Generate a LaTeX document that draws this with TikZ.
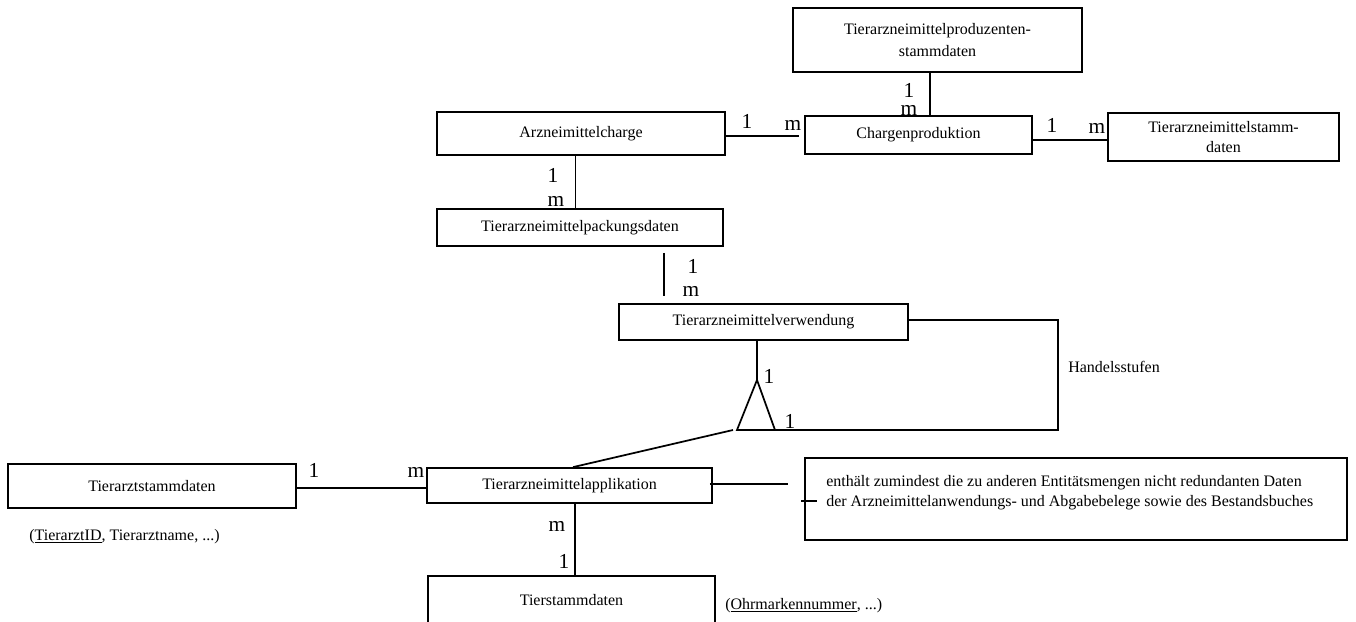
\documentclass[tikz,border=0pt]{standalone}
\usepackage{fontspec}
\setmainfont{Liberation Serif}
\usetikzlibrary{calc}
\begin{document}
\begin{tikzpicture}[x=0.75pt,y=-0.75pt,
  ebox/.style={draw, line width=1.3pt, inner sep=0pt, align=center,
    font=\fontsize{12}{14.5}\selectfont},
  card/.style={font=\fontsize{16}{19}\selectfont, inner sep=0pt, anchor=base},
  note/.style={font=\fontsize{12}{14.5}\selectfont, inner sep=0pt, anchor=base west},
  link/.style={line width=1.3pt}]
\useasboundingbox (0,0) rectangle (1356,621);

% entity boxes
\node[ebox, minimum width=216.75pt, minimum height=48pt] (prod) at (937.5,40)
  {Tierarzneimittelproduzenten-\\[2.5pt]stammdaten};
\node[ebox, minimum width=216pt, minimum height=32.25pt] (charge) at (581,133.5) {Arzneimittelcharge};
\node[ebox, minimum width=170.25pt, minimum height=28.5pt] (chprod) at (918.5,135) {Chargenproduktion};
\node[ebox, minimum width=173.25pt, minimum height=36pt] (stamm) at (1223.5,137)
  {Tierarzneimittelstamm-\\daten};
\node[ebox, minimum width=214.5pt, minimum height=27.75pt] (pack) at (580,227.5) {Tierarzneimittelpackungsdaten};
\node[ebox, minimum width=216.75pt, minimum height=27pt] (verw) at (763.5,322) {Tierarzneimittelverwendung};
\node[ebox, minimum width=213.75pt, minimum height=26.25pt] (appl) at (569.5,485.5) {Tierarzneimittelapplikation};
\node[ebox, minimum width=216pt, minimum height=33pt] (arzt) at (152,486) {Tierarztstammdaten};
\node[ebox, minimum width=215.25pt, minimum height=36pt] (tier) at (571.5,600) {Tierstammdaten};
\node[ebox, minimum width=406.5pt, minimum height=61.5pt] (cbox) at (1076,499) {};
% the base anchor of this two-line node sits on its last line
\node[note, align=left] (ctext) at (826,506)
  {enthält zumindest die zu anderen Entitätsmengen nicht redundanten Daten\\
   der Arzneimittelanwendungs- und Abgabebelege sowie des Bestandsbuches};

% attribute hints
\node[note] (arztattr) at (29,540) {(\underline{TierarztID}, Tierarztname, ...)};
\node[note] (tierattr) at (725,609) {(\underline{Ohrmarkennummer}, ...)};
\node[note] (hstufen) at (1068,372) {Handelsstufen};

% triangle of the ternary relationship
\coordinate (apex) at (757,380);
\coordinate (tl) at (737,430);
\coordinate (tr) at (775,430);
\coordinate (dl) at (733,430);
\coordinate (hs) at (1058,430);
\coordinate (cend) at (788,484);
\draw[link, line join=miter] (apex) -- (tl) -- (tr) -- cycle;

% connectors
\draw[link] ($(prod.south)+(-7.5,0)$) -- ($(chprod.north)+(11.5,0)$);
\draw[link] ($(charge.east)+(0,2.5)$) -- ($(chprod.west)+(-5,1)$);
\draw[link] ($(chprod.east)+(0,5)$) -- ($(stamm.west)+(0,3)$);
\draw[link] ($(charge.south)+(-5.5,0)$) -- ($(pack.north)+(-4.5,0)$);
\draw[link] ($(pack.south)+(84,6)$) -- ($(verw.north)+(-99.5,-7)$);
\draw[link] ($(verw.east)+(0,-2)$) -| (hs) -- (tr);
\draw[link] ($(verw.south)+(-6.5,0)$) -- (apex);
\draw[link] (dl) -- ($(appl.north)+(3.5,0)$);
\draw[link] ($(arzt.east)+(0,2)$) -- ($(appl.west)+(0,2.5)$);
\draw[link] ($(appl.south)+(5.5,0)$) -- ($(tier.north)+(3.5,0)$);
\draw[link] ($(appl.east)+(-3,-1.5)$) -- (cend);
\draw[link] ($(cbox.west)+(-3,2)$) -- ($(cbox.west)+(13,2)$);

% cardinalities
\node[card] (c1) at (909,97) {1};
\node[card] (c2) at (909,115) {m};
\node[card] (c3) at (747,128) {1};
\node[card] (c4) at (793,130) {m};
\node[card] (c5) at (1052,132) {1};
\node[card] (c6) at (1097,133) {m};
\node[card] (c7) at (553,182) {1};
\node[card] (c8) at (556,206) {m};
\node[card] (c9) at (693,273) {1};
\node[card] (c10) at (691,296) {m};
\node[card] (c11) at (769,383) {1};
\node[card] (c12) at (790,428) {1};
\node[card] (c13) at (314,477) {1};
\node[card] (c14) at (416,477) {m};
\node[card] (c15) at (557,531) {m};
\node[card] (c16) at (564,568) {1};
\end{tikzpicture}
\end{document}
